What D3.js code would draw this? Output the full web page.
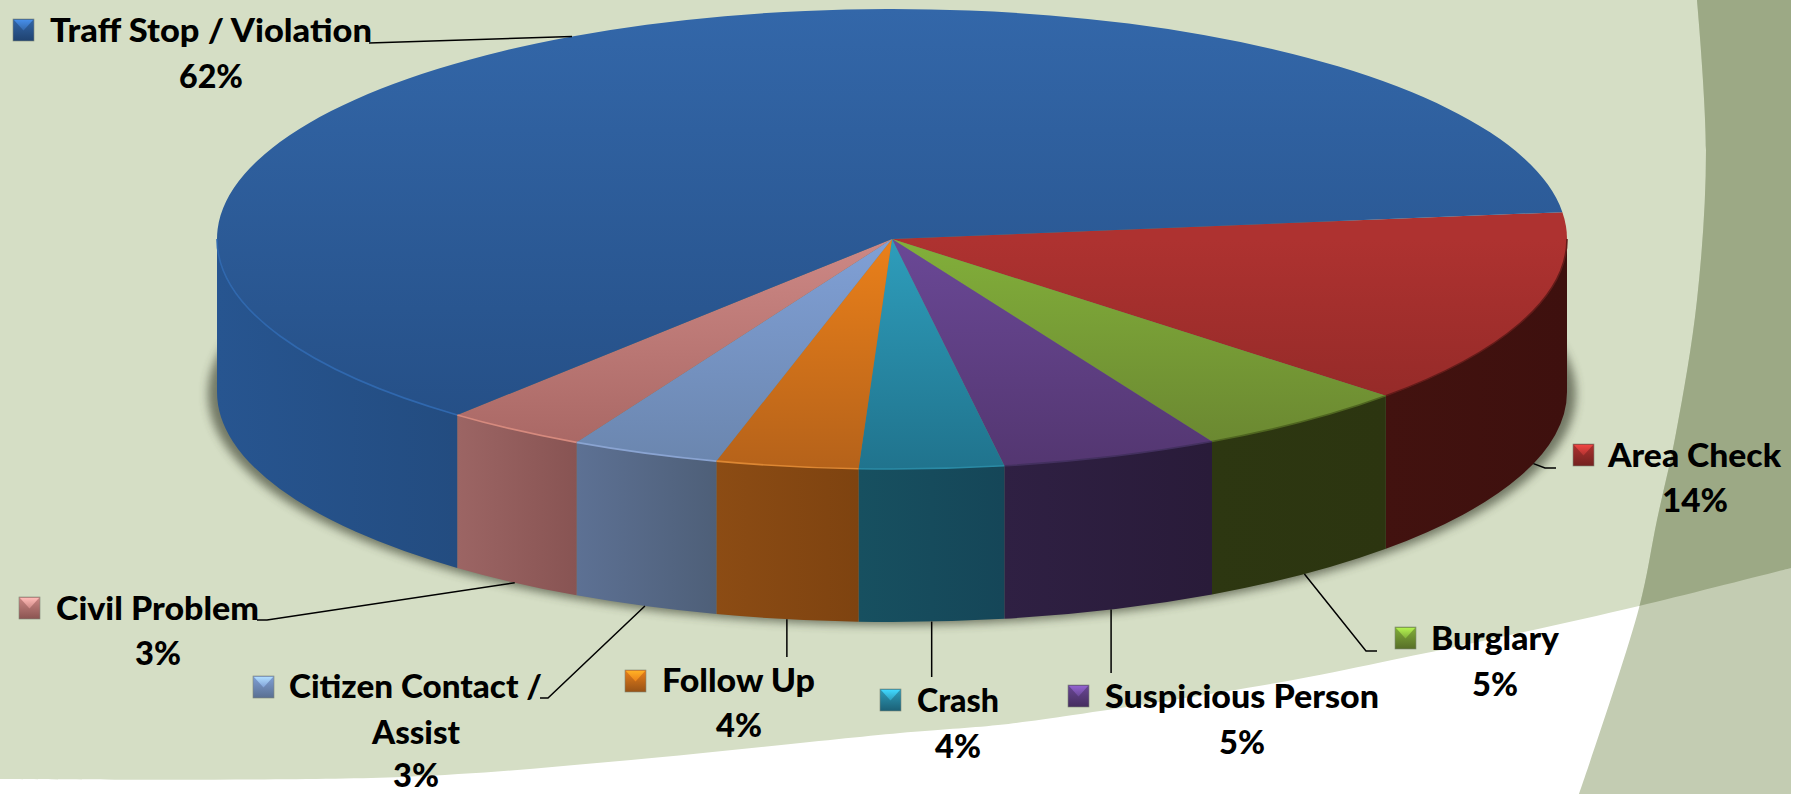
<!DOCTYPE html>
<html>
<head>
<meta charset="utf-8">
<style>
html,body{margin:0;padding:0;background:#fff;overflow:hidden}
svg{display:block}
text{font-family:Lato,"Open Sans",sans-serif;font-weight:900;fill:#000}
</style>
<script src="https://cdn.jsdelivr.net/npm/d3@7"></script>
</head>
<body>
<svg id="chart" width="1807" height="794"></svg>
<script>
// ---------- data (clockwise from the Area Check edge) ----------
const categories = ["Area Check","Burglary","Suspicious Person","Crash","Follow Up","Citizen Contact / Assist","Civil Problem","Traff Stop / Violation"];
const shares     = [13.8, 5.2, 5.2, 3.45, 3.4, 3.55, 3.4, 62.0];
const pctLabels  = ["14%","5%","5%","4%","4%","3%","3%","62%"];
const faceNear   = ["#8a2725","#688330","#533670","#20738d","#b5621a","#6a85ad","#a56461","#254f86"];
const faceFar    = ["#ae3230","#82af3a","#6a4896","#2e9dbb","#ea801a","#80a0d6","#cd8885","#3367a9"];
const sideLeft   = ["#42120f","#2d3711","#2f2043","#175060","#8c4c14","#5d7194","#9c6564","#275590"];
const sideRight  = ["#3e100e","#2c3510","#291b39","#154658","#7e4310","#4e5f78","#885453","#234c80"];
const rimColours = ["#641b19","#4f6520","#43305f","#2a8aa5","#dd8733","#8aa4d2","#d68a7e","#3068ae"];

// ---------- layout ----------
const W = 1807, H = 794;
const cx = 892, cy = 239, rx = 675, ry = 230, depth = 153;
const startDeg = 83.3;
const stripX = 1791;

const swooshPts = [[0,779],[402,777],[631,760],[900,733],[998,725],[1073,715],[1293,680],[1392,660],[1478,642],[1639,606],[1791,568]];
const bandPts   = [[1697,0],[1706,150],[1697,300],[1676,433],[1657,520],[1639,608],[1579,794]];

const labelLayout = [
  {swatch:[1573,444], lines:[{cx:1694.5,y:467,w:173},{cx:1695,y:512,w:66}],  elbow:[[1556,468],[1545,468]]},
  {swatch:[1395,627], lines:[{cx:1495,y:650,w:128},{cx:1495,y:696,w:46}],    elbow:[[1377,651],[1366,651]]},
  {swatch:[1068,685], lines:[{cx:1242,y:708,w:274},{cx:1242,y:754,w:46}],    elbow:[[null,673]]},
  {swatch:[880,689],  lines:[{cx:958,y:712,w:82},{cx:958,y:758,w:46}],       elbow:[[null,677]]},
  {swatch:[625,670],  lines:[{cx:738.5,y:692,w:153},{cx:739,y:737,w:46}],    elbow:[[null,657]]},
  {swatch:[253,676],  lines:[{cx:415.5,y:698,w:253,t:"Citizen Contact /"},{cx:416,y:744,w:88,t:"Assist"},{cx:416,y:787,w:46}], elbow:[[540,698],[548,698]]},
  {swatch:[19,597],   lines:[{cx:157.5,y:620,w:203},{cx:158,y:665,w:46}],    elbow:[[257,620],[267,620]]},
  {swatch:[13,19],    lines:[{cx:211,y:42,w:322},{cx:211,y:88,w:64}],        elbow:[[369,43]]}
];

const svg = d3.select("#chart");
const defs = svg.append("defs");

// ---------- background ----------
const curve = d3.line().curve(d3.curveCatmullRom.alpha(0.5));
const swooshRev = curve(swooshPts.slice().reverse());
const bandPath = curve(bandPts);

svg.append("rect").attr("width",W).attr("height",H).attr("fill","#ffffff");
svg.append("path")
  .attr("d", "M0,0L"+stripX+",0L"+swooshRev.slice(1)+"Z")
  .attr("fill","#d5dec5");
defs.append("clipPath").attr("id","aboveSwoosh").append("path")
  .attr("d","M0,0L"+stripX+",0L"+swooshRev.slice(1)+"Z");
const bandArea = bandPath + "L"+stripX+","+H+"L"+stripX+",0Z";
svg.append("path").attr("d",bandArea).attr("fill","#c3ccb2");
svg.append("path").attr("d",bandArea).attr("fill","#9ca985").attr("clip-path","url(#aboveSwoosh)");

// ---------- pie geometry ----------
const k = ry/rx;
const TAU = Math.PI*2;
const start = startDeg*Math.PI/180;
const pie = d3.pie().sort(null).value(d=>d).startAngle(start).endAngle(start+TAU);
const arcs = pie(shares);
const arcGen = d3.arc().innerRadius(0).outerRadius(rx);
const px = a => cx + rx*Math.sin(a);
const py = a => cy - ry*Math.cos(a);

// ---------- gradients ----------
arcs.forEach((a,i)=>{
  const isBack = i===arcs.length-1;
  const y1 = isBack ? 9 : 240, y2 = isBack ? 430 : 470;
  const g = defs.append("linearGradient").attr("id","face"+i)
    .attr("gradientUnits","userSpaceOnUse")
    .attr("x1",0).attr("x2",0).attr("y1",(y1-cy)/k).attr("y2",(y2-cy)/k);
  g.append("stop").attr("offset",0).attr("stop-color",faceFar[i]);
  g.append("stop").attr("offset",1).attr("stop-color",faceNear[i]);
  const s = defs.append("linearGradient").attr("id","side"+i);
  s.append("stop").attr("offset",0).attr("stop-color",sideLeft[i]);
  s.append("stop").attr("offset",1).attr("stop-color",sideRight[i]);
  const sw = defs.append("linearGradient").attr("id","tri"+i).attr("x1",0).attr("x2",0).attr("y1",0).attr("y2",1);
  sw.append("stop").attr("offset",0).attr("stop-color",d3.color(faceFar[i]).brighter(0.9));
  sw.append("stop").attr("offset",1).attr("stop-color",faceFar[i]);
  const sb = defs.append("linearGradient").attr("id","swb"+i).attr("x1",0).attr("x2",0).attr("y1",0).attr("y2",1);
  sb.append("stop").attr("offset",0).attr("stop-color",faceFar[i]);
  sb.append("stop").attr("offset",1).attr("stop-color",d3.color(faceNear[i]).darker(0.5));
});
const blur = defs.append("filter").attr("id","soft").attr("x","-5%").attr("y","-10%").attr("width","110%").attr("height","120%");
blur.append("feGaussianBlur").attr("stdDeviation",5);

// ---------- shadow ----------
svg.append("ellipse")
  .attr("cx",cx).attr("cy",cy+depth+2).attr("rx",rx+9).attr("ry",ry+1)
  .attr("fill","#3c4232").attr("opacity",0.65).attr("filter","url(#soft)");

// ---------- side walls (only the front half of the ring shows) ----------
const visible = d => {
  const a0 = Math.max(d.startAngle, Math.PI/2), a1 = Math.min(d.endAngle, Math.PI*1.5);
  return a1>a0 ? [a0,a1] : null;
};
const sidePath = d => {
  const v = visible(d); if(!v) return "";
  const [a0,a1] = v;
  return `M${px(a0)},${py(a0)}A${rx},${ry} 0 0 1 ${px(a1)},${py(a1)}L${px(a1)},${py(a1)+depth}A${rx},${ry} 0 0 0 ${px(a0)},${py(a0)+depth}Z`;
};
svg.append("g").selectAll("path").data(arcs).join("path")
  .attr("d",sidePath)
  .attr("fill",(d,i)=>`url(#side${i})`);

// ---------- top face ----------
svg.append("g").attr("transform",`translate(${cx},${cy}) scale(1,${k})`)
  .selectAll("path").data(arcs).join("path")
  .attr("d",arcGen)
  .attr("fill",(d,i)=>`url(#face${i})`);

// ---------- rim highlight ----------
svg.append("g").selectAll("path").data(arcs).join("path")
  .attr("d",d=>{
    const v = visible(d); if(!v) return "";
    return `M${px(v[0])},${py(v[0])}A${rx},${ry} 0 0 1 ${px(v[1])},${py(v[1])}`;
  })
  .attr("fill","none").attr("stroke",(d,i)=>rimColours[i]).attr("stroke-width",1.6);

// ---------- leaders ----------
const anchor = d => {
  const m = (d.startAngle+d.endAngle)/2;
  return [px(m), py(m) + (Math.cos(m) < 0 ? depth : 0)];
};
svg.append("g").selectAll("path").data(arcs).join("path")
  .attr("d",(d,i)=>{
    const end = anchor(d);
    const pts = labelLayout[i].elbow.map(p => [p[0]===null ? end[0] : p[0], p[1]]);
    return d3.line()([...pts, end]);
  })
  .attr("fill","none").attr("stroke","#000").attr("stroke-width",1.5);

// ---------- labels and bevelled keys ----------
const lab = svg.append("g").selectAll("g").data(arcs).join("g");
lab.each(function(d,i){
  const g = d3.select(this), L = labelLayout[i], [sx,sy] = L.swatch, s = 21;
  g.append("rect").attr("x",sx).attr("y",sy).attr("width",s).attr("height",s+1)
    .attr("fill",`url(#swb${i})`).attr("stroke","#808878").attr("stroke-width",0.6);
  g.append("path").attr("d",`M${sx+1},${sy+1}L${sx+s-1},${sy+1}L${sx+s/2},${sy+s*0.55}Z`)
    .attr("fill",`url(#tri${i})`);
  L.lines.forEach((ln,j)=>{
    const isPct = j===L.lines.length-1;
    g.append("text")
      .attr("x",ln.cx).attr("y",ln.y)
      .attr("text-anchor","middle")
      .attr("font-size",33)
      .attr("textLength",ln.w).attr("lengthAdjust","spacingAndGlyphs")
      .text(isPct ? pctLabels[i] : (ln.t || categories[i]));
  });
});
</script>
</body>
</html>
